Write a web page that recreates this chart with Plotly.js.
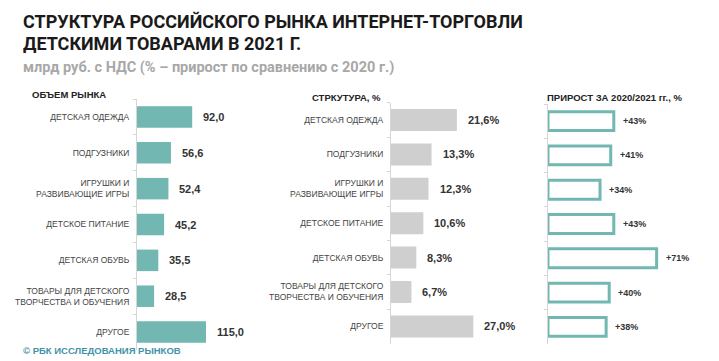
<!DOCTYPE html>
<html><head><meta charset="utf-8">
<script src="https://cdn.plot.ly/plotly-3.0.1.min.js"></script>
<style>html,body{margin:0;padding:0;background:#fff}#chart{width:719px;height:361px}</style>
</head><body><div id="chart"></div>
<script>
const categories = ["ДЕТСКАЯ ОДЕЖДА","ПОДГУЗНИКИ","ИГРУШКИ И<br>РАЗВИВАЮЩИЕ ИГРЫ","ДЕТСКОЕ ПИТАНИЕ","ДЕТСКАЯ ОБУВЬ","ТОВАРЫ ДЛЯ ДЕТСКОГО<br>ТВОРЧЕСТВА И ОБУЧЕНИЯ","ДРУГОЕ"];
const marketVolume = [92.0, 56.6, 52.4, 45.2, 35.5, 28.5, 115.0];
const marketShare = [21.6, 13.3, 12.3, 10.6, 8.3, 6.7, 27.0];
const growth = [43, 41, 34, 43, 71, 40, 38];
const panelTitles = ["ОБЪЕМ РЫНКА", "СТРКУТУРА, %", "ПРИРОСТ ЗА 2020/2021 гг., %"];
const titleLines = ["СТРУКТУРА РОССИЙСКОГО РЫНКА ИНТЕРНЕТ-ТОРГОВЛИ", "ДЕТСКИМИ ТОВАРАМИ В 2021 Г."];

const W = 719, H = 361;
const px = p => p / W;
const py = p => 1 - p / H;
const TEAL = '#72b7b2', GRAY = '#cfcfcf', AX = '#d6d6d6';
const NARROW = '"Liberation Sans Narrow", "Arial Narrow", sans-serif';
const fmt1 = v => v.toFixed(1).replace('.', ',');

const traces = [
  {type:'bar', orientation:'h', x: marketVolume, y: categories, xaxis:'x', yaxis:'y',
   marker:{color:TEAL}, width:0.6, hoverinfo:'skip'},
  {type:'bar', orientation:'h', x: marketShare, y: categories, xaxis:'x2', yaxis:'y2',
   marker:{color:GRAY}, width:0.64, hoverinfo:'skip'},
  {type:'bar', orientation:'h', x: growth, y: categories, xaxis:'x3', yaxis:'y3',
   marker:{color:'#ffffff', line:{color:TEAL, width:3}}, width:0.55, hoverinfo:'skip'}
];

const annotations = [];
categories.forEach((c, i) => {
  annotations.push({xref:'x', yref:'y', x: marketVolume[i], y: c, text: fmt1(marketVolume[i]),
    xanchor:'left', xshift:9, showarrow:false, font:{family:NARROW, size:11, color:'#333', weight:'bold'}});
  annotations.push({xref:'x2', yref:'y2', x: marketShare[i], y: c, text: fmt1(marketShare[i]) + '%',
    xanchor:'left', xshift:9, showarrow:false, font:{family:NARROW, size:11, color:'#333', weight:'bold'}});
  annotations.push({xref:'x3', yref:'y3', x: growth[i], y: c, text: '+' + growth[i] + '%',
    xanchor:'left', xshift:7, showarrow:false, font:{family:NARROW, size:9, color:'#333', weight:'bold'}});
});
// title lines
[[21, 21], [21, 44]].forEach((p, i) => {
  annotations.push({xref:'paper', yref:'paper', x: px(p[0]), y: py(p[1]), xanchor:'left', yanchor:'middle',
    text: titleLines[i], showarrow:false,
    font:{family:'Roboto, sans-serif', size:18, color:'#1a1a1a', weight:'bold'}});
});
// panel titles
[[30, 95], [310, 97], [545, 97]].forEach((p, i) => {
  annotations.push({xref:'paper', yref:'paper', x: px(p[0]), y: py(p[1]), xanchor:'left', yanchor:'middle',
    text: panelTitles[i], showarrow:false, font:{family:NARROW, size:9.5, color:'#222', weight:'bold'}});
});
// subtitle
annotations.push({xref:'paper', yref:'paper', x: px(21), y: py(67), xanchor:'left', yanchor:'middle',
  text:'млрд руб. с НДС (% – прирост по сравнению с 2020 г.)', showarrow:false,
  font:{family:'Roboto, sans-serif', size:14.5, color:'#a8a8a8', weight:'bold'}});
// footer
annotations.push({xref:'paper', yref:'paper', x: px(21), y: py(350), xanchor:'left', yanchor:'middle',
  text:'© РБК ИССЛЕДОВАНИЯ РЫНКОВ', showarrow:false,
  font:{family:'"Liberation Sans", Arial, sans-serif', size:9.5, color:'#3f93a8', weight:'bold'}});

const yBase = {type:'category', range:[6.5, -0.5], showline:true, linecolor:AX, linewidth:1,
  ticks:'outside', tickson:'boundaries', ticklen:3, tickcolor:AX, showgrid:false, zeroline:false,
  tickfont:{family:NARROW, size:8.5, color:'#444'}, ticklabelstandoff:5, fixedrange:true};

const layout = {
  width: W, height: H, margin:{l:0, r:0, t:0, b:0}, paper_bgcolor:'#fff', plot_bgcolor:'#fff',
  showlegend:false, bargap:0.4,
  xaxis:{domain:[px(137), px(250)], range:[0, 113/0.6], visible:false, fixedrange:true},
  xaxis2:{domain:[px(391), px(505)], range:[0, 114/3.05], visible:false, fixedrange:true},
  xaxis3:{domain:[px(548), px(705)], range:[0, 157/1.53], visible:false, fixedrange:true},
  yaxis:Object.assign({}, yBase, {domain:[py(350), py(99)], anchor:'x'}),
  yaxis2:Object.assign({}, yBase, {domain:[py(343.6), py(102.8)], anchor:'x2'}),
  yaxis3:Object.assign({}, yBase, {domain:[py(344), py(104)], anchor:'x3', showticklabels:false}),
  annotations: annotations
};

Plotly.newPlot('chart', traces, layout, {displayModeBar:false, staticPlot:true});
</script></body></html>
